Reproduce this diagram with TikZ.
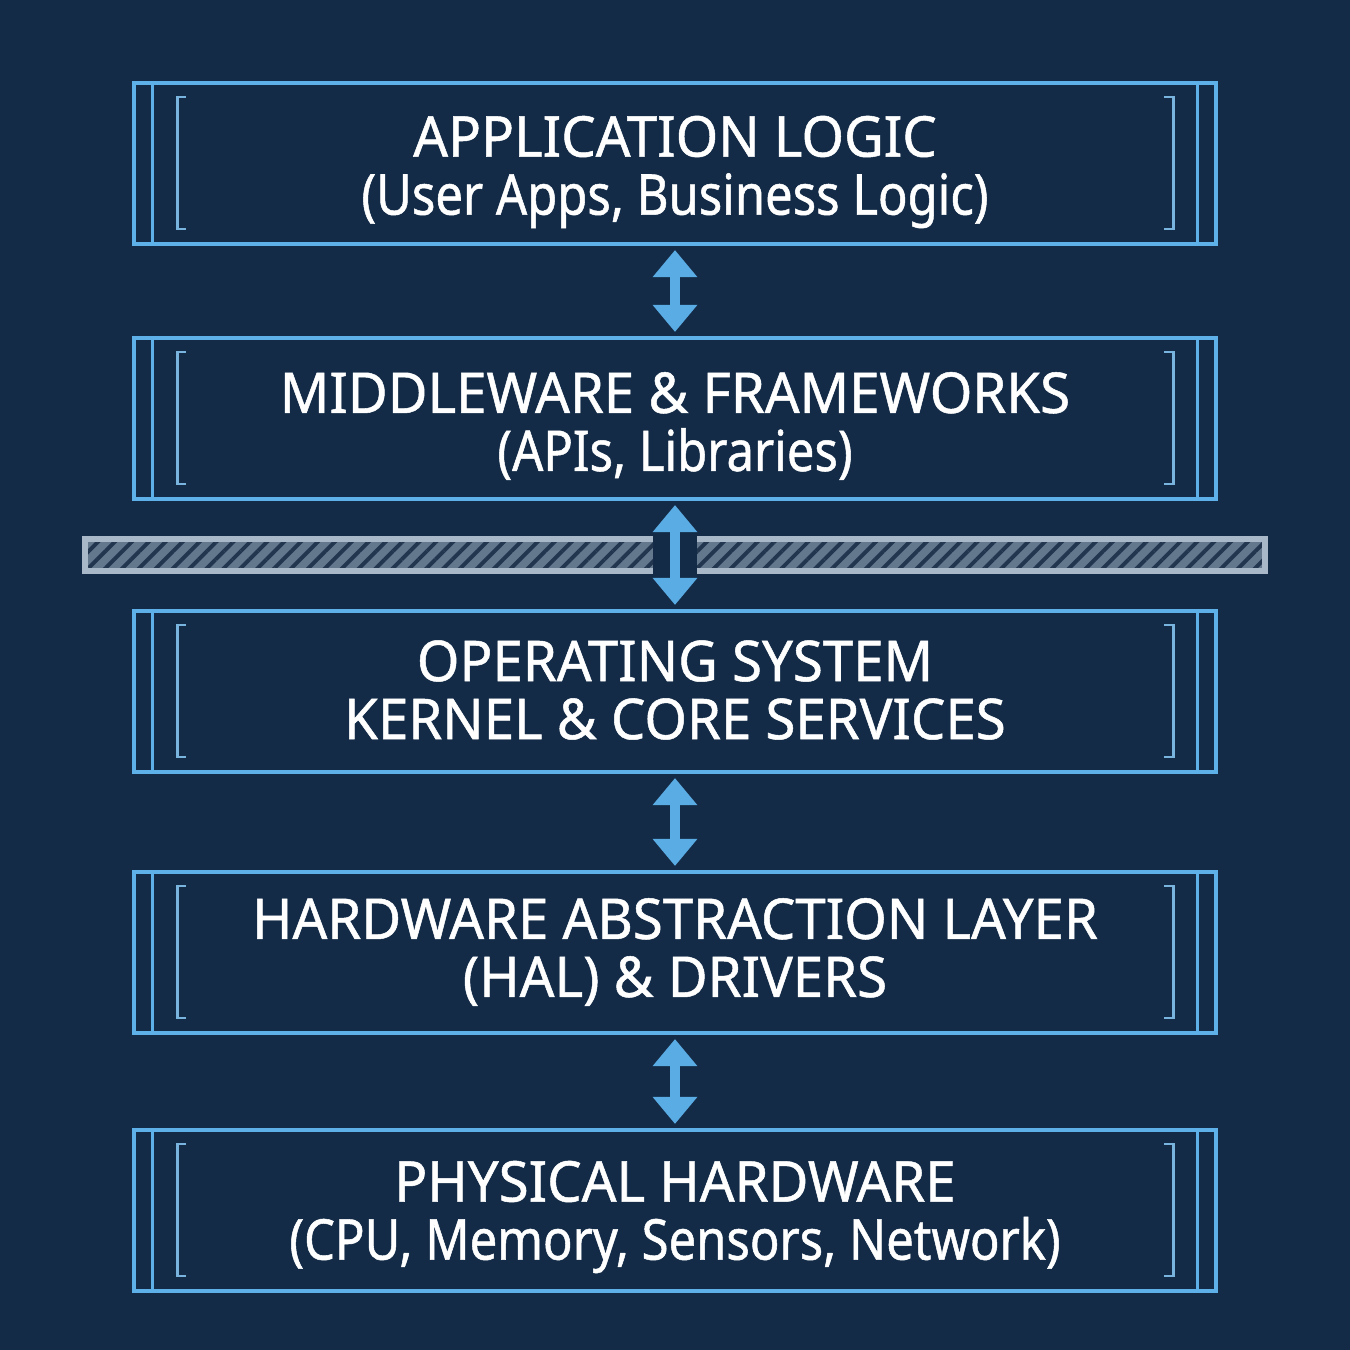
\documentclass[tikz,border=0pt]{standalone}
\usepackage{fontspec}
\setmainfont[FakeStretch=0.9]{Noto Sans}
\newfontfamily\capsfont[FakeStretch=0.97,FakeBold=0.9]{Noto Sans}
\newfontfamily\lowfont[FakeStretch=0.87,FakeBold=0.9]{Noto Sans}
\usetikzlibrary{arrows.meta,patterns.meta}
\definecolor{bg}{HTML}{132B47}
\definecolor{edge}{HTML}{5DB0E8}
\definecolor{brk}{HTML}{78B4DE}
\definecolor{barfill}{HTML}{63778D}
\definecolor{barline}{HTML}{A8B8C8}
\definecolor{hatch}{HTML}{223650}
\definecolor{arrowc}{HTML}{5AACE4}
\tikzset{
  layer/.style={draw=edge, line width=1.15pt, minimum width=10.82cm, minimum height=1.61cm,
    inner sep=0pt},
  txt/.style={align=center, text=white, inner sep=0pt, font=\fontsize{16}{16.5}\selectfont},
  innerline/.style={draw=edge, line width=0.9pt},
  bracketline/.style={draw=brk, line width=0.8pt},
  conn/.style={draw=arrowc, line width=0.09cm,
    {Triangle[width=0.43cm,length=0.27cm]}-{Triangle[width=0.43cm,length=0.27cm]},
    shorten <=0.04cm, shorten >=0.04cm},
  barborder/.style={draw=barline, line width=1.7pt},
  hatchfill/.style={pattern={Lines[angle=45,distance=3.4pt,line width=1.1pt]}, pattern color=hatch},
}
\begin{document}
\begin{tikzpicture}[x=0.01cm,y=-0.01cm]
\fill[bg] (0,0) rectangle (1350,1350);
\useasboundingbox (0,0) rectangle (1350,1350);

\node[layer] (L1) at (675,163.5) {};
\node[layer] (L2) at (675,418.5) {};
\node[layer] (L3) at (675,691.5) {};
\node[layer] (L4) at (675,952.5) {};
\node[layer] (L5) at (675,1210.5) {};

\node[txt] (T1) at (675,172) {\capsfont APPLICATION LOGIC\\\lowfont (User Apps, Business Logic)};
\node[txt] (T2) at (675,426) {\capsfont MIDDLEWARE \& FRAMEWORKS\\\lowfont (APIs, Libraries)};
\node[txt] (T3) at (675,690) {\capsfont OPERATING SYSTEM\\\capsfont KERNEL \& CORE SERVICES};
\node[txt] (T4) at (675,952) {\capsfont HARDWARE ABSTRACTION LAYER\\\capsfont (HAL) \& DRIVERS};
\node[txt] (T5) at (675,1217) {\capsfont PHYSICAL HARDWARE\\\lowfont (CPU, Memory, Sensors, Network)};

\foreach \n in {L1,L2,L3,L4,L5}{
  \draw[innerline] ([shift={(21,0)}]\n.north west) -- ([shift={(21,0)}]\n.south west);
  \draw[innerline] ([shift={(-21,0)}]\n.north east) -- ([shift={(-21,0)}]\n.south east);
  \draw[bracketline] ([shift={(54,16)}]\n.north west) -- ++(-8,0) |- ([shift={(54,-17)}]\n.south west);
  \draw[bracketline] ([shift={(-54,16)}]\n.north east) -- ++(9,0) |- ([shift={(-54,-17)}]\n.south east);
}

% hatched barrier
\fill[barfill] (85,539) rectangle (653,571);
\fill[hatchfill] (85,539) rectangle (653,571);
\draw[barborder] (653,539) -- (85,539) -- (85,571) -- (653,571);
\fill[barfill] (697,539) rectangle (1265,571);
\fill[hatchfill] (697,539) rectangle (1265,571);
\draw[barborder] (697,539) -- (1265,539) -- (1265,571) -- (697,571);

\draw[conn] (L1.south) -- (L2.north);
\draw[conn] (L2.south) -- (L3.north);
\draw[conn] (L3.south) -- (L4.north);
\draw[conn] (L4.south) -- (L5.north);
\end{tikzpicture}
\end{document}
